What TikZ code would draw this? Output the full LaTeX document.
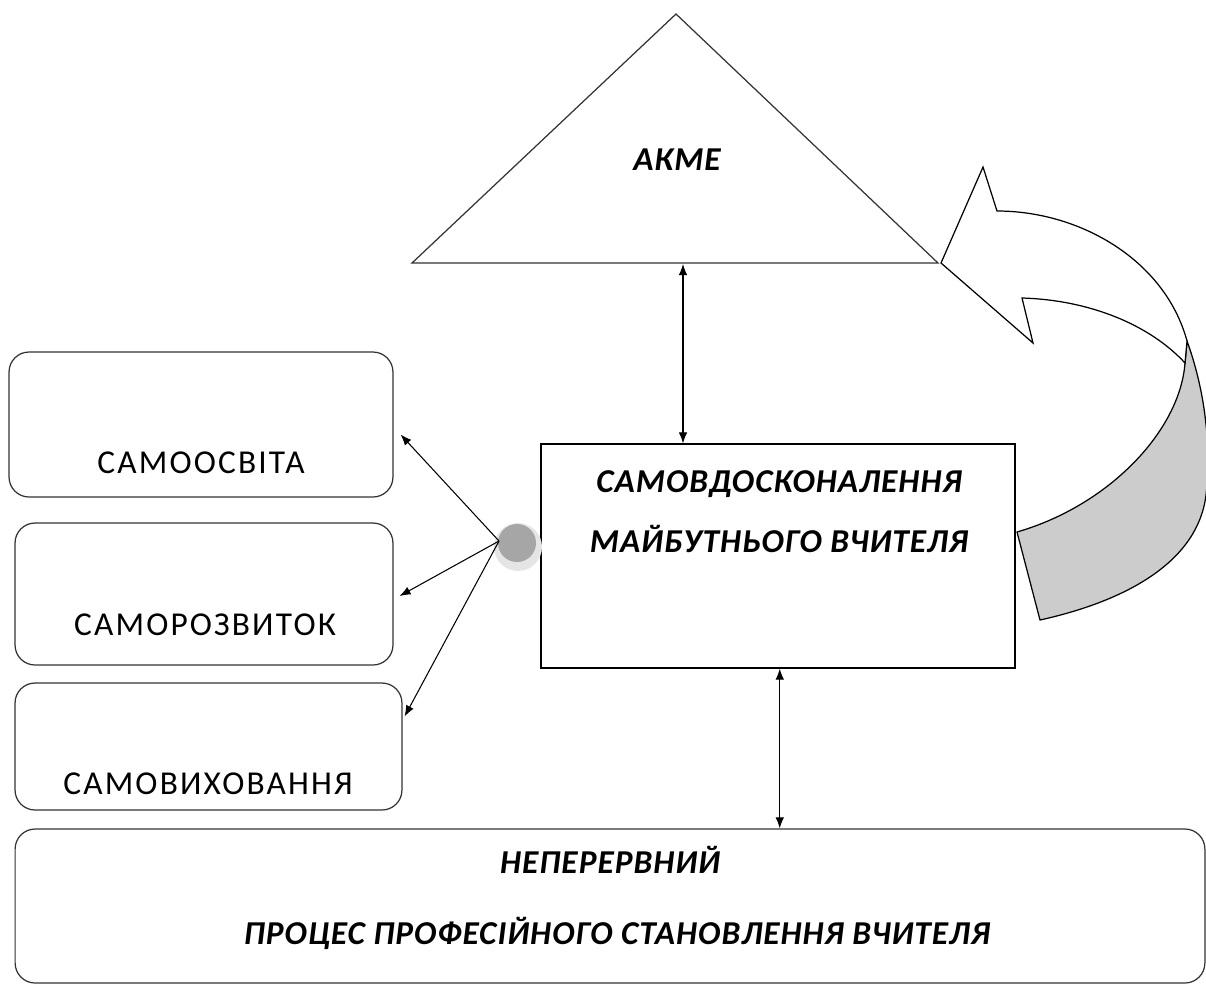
\documentclass[tikz,border=0pt]{standalone}
\usepackage{fontspec}
\setmainfont{Carlito}
\newfontfamily\widefont[LetterSpace=6.5]{Carlito}
\newfontfamily\widebi[LetterSpace=3]{Carlito}
\usetikzlibrary{arrows.meta,positioning,calc}

\begin{document}
\begin{tikzpicture}[x=0.02cm,y=-0.02cm,
  lbox/.style={draw=black!80,line width=0.7pt,rounded corners=0.4cm},
  mainbox/.style={draw,line width=0.7pt,minimum width=9.48cm,minimum height=4.48cm},
  captxt/.style={font=\widefont\fontsize{19}{23}\selectfont},
  capbi/.style={font=\widebi\fontsize{19}{34}\selectfont\bfseries\itshape},
  link/.style={-{Latex[length=2.2mm,width=1.7mm]},line width=0.6pt},
  both/.style={{Latex[length=2.2mm,width=1.7mm]}-{Latex[length=2.2mm,width=1.7mm]},line width=0.6pt}]
  \useasboundingbox (0,0) rectangle (1206,985);
  % pyramid
  \coordinate (apex) at (676,14);
  \coordinate (bl) at (412,263);
  \coordinate (br) at (938,263);
  \draw[line width=0.7pt,draw=black!80,fill=white] (bl) -- (apex) -- (br) -- cycle;
  \node[capbi] (akme) at (677,160) {АКМЕ};
  % curved arrow, shaded underside first
  \draw[line width=0.7pt,fill=black!20] (1187,341) .. controls (1203,385) and (1212,440) .. (1206,495)
    .. controls (1198,560) and (1130,600) .. (1040,620) -- (1017,532)
    .. controls (1110,505) and (1180,430) .. (1185,363) -- cycle;
  \draw[line width=0.7pt,fill=white] (997,211) .. controls (1080,211) and (1165,260) .. (1187,341)
    -- (1185,363) .. controls (1150,325) and (1090,300) .. (1022,298)
    -- (1033,343) -- (941,263) -- (983,167) -- cycle;
  % central box
  \node[mainbox] (vdosk) at (778,556) {};
  \node[capbi,align=center] (vdosktxt) at (779,512) {САМОВДОСКОНАЛЕННЯ\\МАЙБУТНЬОГО ВЧИТЕЛЯ};
  % left boxes
  \node[lbox,minimum width=7.68cm,minimum height=2.9cm] (osvita) at (201,424.5) {};
  \node[captxt] at (201,463) {САМООСВІТА};
  \node[lbox,minimum width=7.56cm,minimum height=2.84cm] (rozvytok) at (204,594) {};
  \node[captxt] at (205,625) {САМОРОЗВИТОК};
  \node[lbox,minimum width=7.74cm,minimum height=2.54cm] (vykhov) at (208.5,746.5) {};
  \node[captxt] at (208,784) {САМОВИХОВАННЯ};
  % bottom box
  \node[lbox,minimum width=23.8cm,minimum height=3.08cm] (proces) at (610,906) {};
  \node[capbi] at (610,860) {НЕПЕРЕРВНИЙ};
  \node[capbi] at (617,933) {ПРОЦЕС ПРОФЕСІЙНОГО СТАНОВЛЕННЯ ВЧИТЕЛЯ};
  % hub
  \node[circle,fill=black!10,minimum size=0.96cm,inner sep=0pt] (hub) at (518,547) {};
  \fill[black!35] (517,543) circle (0.38cm);
  \coordinate (fork) at (499,541);
  \draw[link] (fork) -- ([shift={(7,10)}]osvita.east);
  \draw[link] (fork) -- ([shift={(6,2)}]rozvytok.east);
  \draw[link] (fork) -- ([shift={(2,-30)}]vykhov.east);
  % vertical links
  \coordinate (akmefoot) at (683,264);
  \draw[both] (akmefoot) -- (akmefoot |- vdosk.north);
  \draw[both] ([xshift=1pt]vdosk.south) -- ([xshift=1pt]vdosk.south |- proces.north);
\end{tikzpicture}
\end{document}
